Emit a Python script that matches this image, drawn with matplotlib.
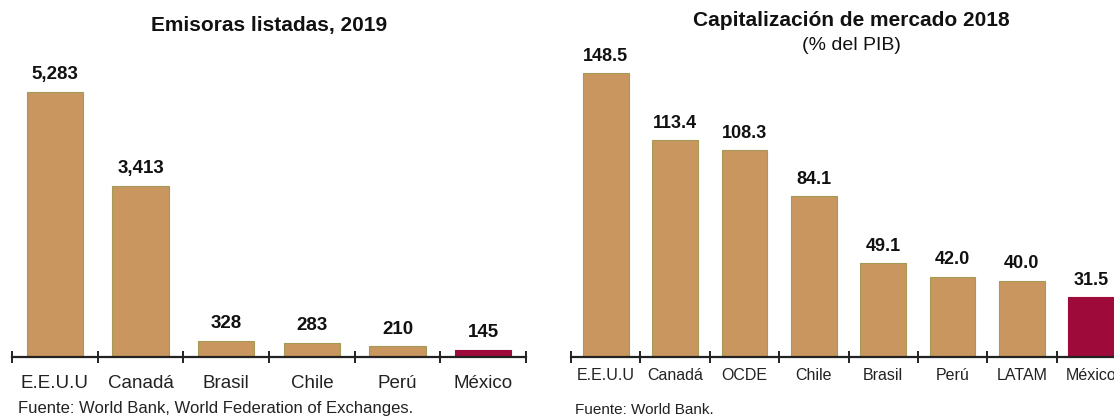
import numpy as np
import matplotlib
matplotlib.use('Agg')
import matplotlib.pyplot as plt

plt.rcParams['font.family'] = ['Liberation Sans', 'DejaVu Sans']

# Emisoras listadas, 2019
emisoras_paises = ['E.E.U.U', 'Canadá', 'Brasil', 'Chile', 'Perú', 'México']
emisoras_valores = [5283, 3413, 328, 283, 210, 145]
emisoras_etiquetas = ['5,283', '3,413', '328', '283', '210', '145']

# Capitalizacion de mercado 2018 (% del PIB)
cap_paises = ['E.E.U.U', 'Canadá', 'OCDE', 'Chile', 'Brasil', 'Perú', 'LATAM', 'México']
cap_valores = [148.5, 113.4, 108.3, 84.1, 49.1, 42.0, 40.0, 31.5]
cap_etiquetas = ['148.5', '113.4', '108.3', '84.1', '49.1', '42.0', '40.0', '31.5']

color_bar = '#C9965F'
color_mex = '#9E0A3A'
color_edge = '#A39A55'

W, H = 1114, 417
fig = plt.figure(figsize=(W / 100, H / 100), dpi=100)


def px_axes(x0, x1, y_base, height):
    return fig.add_axes([x0 / W, (H - y_base) / H, (x1 - x0) / W, height / H])


def draw(ax, paises, valores, etiquetas, ytop, lab_size, tick_size, lab_pad, tick_pad):
    n = len(paises)
    x = np.arange(n)
    colors = [color_mex if p == 'México' else color_bar for p in paises]
    edges = [color_mex if p == 'México' else color_edge for p in paises]
    ax.bar(x, valores, width=0.66, color=colors, edgecolor=edges, linewidth=0.8)
    for xi, v, t in zip(x, valores, etiquetas):
        ax.annotate(t, (xi, v), xytext=(0, lab_pad), textcoords='offset points',
                    ha='center', va='bottom', fontsize=lab_size, fontweight='bold',
                    color='#111111', annotation_clip=False)
    ax.set_xlim(-0.5, n - 0.5)
    ax.set_ylim(0, ytop)
    for s in ['top', 'right', 'left']:
        ax.spines[s].set_visible(False)
    ax.spines['bottom'].set_linewidth(1.6)
    ax.spines['bottom'].set_color('#222222')
    ax.set_yticks([])
    ax.set_xticks(x)
    ax.set_xticklabels(paises, fontsize=tick_size, color='#222222')
    ax.tick_params(axis='x', which='major', length=0, pad=tick_pad)
    ax.set_xticks(np.arange(n + 1) - 0.5, minor=True)
    ax.tick_params(axis='x', which='minor', direction='inout', length=9,
                   width=1.4, color='#222222')
    ax.patch.set_alpha(0)


ax1 = px_axes(12, 526, 357, 290)
draw(ax1, emisoras_paises, emisoras_valores, emisoras_etiquetas,
     290 / 0.0502, 13.5, 13.5, 6, 13)

ax2 = px_axes(571, 1126, 357, 290)
draw(ax2, cap_paises, cap_valores, cap_etiquetas,
     290 / 1.91, 13, 11.5, 6, 8)

fig.text(269 / W, 1 - 25 / H, 'Emisoras listadas, 2019', ha='center', va='center',
         fontsize=15, fontweight='bold', color='#111111')
fig.text(851 / W, 1 - 21 / H, 'Capitalización de mercado 2018', ha='center', va='center',
         fontsize=15, fontweight='bold', color='#111111')
fig.text(851 / W, 1 - 46 / H, '(% del PIB)', ha='center', va='center',
         fontsize=14, color='#111111')

fig.text(18 / W, 1 - 409 / H, 'Fuente: World Bank, World Federation of Exchanges.',
         ha='left', va='center', fontsize=12, color='#222222')
fig.text(575 / W, 1 - 410 / H, 'Fuente: World Bank.',
         ha='left', va='center', fontsize=11, color='#222222')

plt.savefig('out.png', dpi=100)
